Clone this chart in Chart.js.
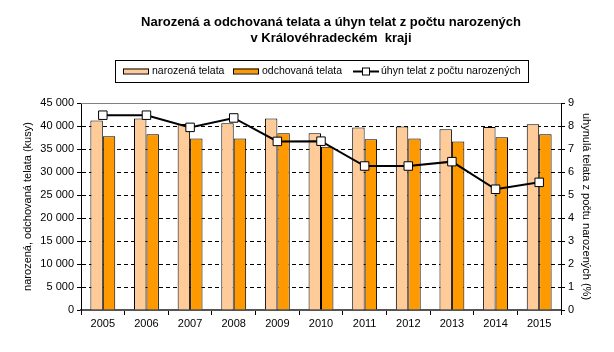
<!DOCTYPE html>
<html>
<head>
<meta charset="utf-8">
<script src="https://cdn.jsdelivr.net/npm/chart.js@4/dist/chart.umd.min.js"></script>
<style>
  html, body { margin: 0; padding: 0; background: #fff; }
</style>
</head>
<body>
<canvas id="chart" width="614" height="352"></canvas>
<script>
const years = ['2005', '2006', '2007', '2008', '2009', '2010', '2011', '2012', '2013', '2014', '2015'];
const narozena = [41200, 41650, 40450, 40600, 41650, 38400, 39700, 39900, 39300, 39800, 40400];
const odchovana = [37750, 38200, 37300, 37300, 38400, 35500, 37100, 37300, 36650, 37550, 38200];
const uhyn = [8.47, 8.47, 7.94, 8.35, 7.33, 7.34, 6.26, 6.26, 6.45, 5.25, 5.55];

const titleLines = ['Narozená a odchovaná telata a úhyn telat z počtu narozených', 'v Královéhradeckém  kraji'];
const seriesNames = ['narozená telata', 'odchovaná telata', 'úhyn telat z počtu narozených'];
const leftTitle = 'narozená, odchovaná telata (kusy)';
const rightTitle = 'uhynulá telata z počtu narozených (%)';

const FONT = '"Liberation Sans", Arial, sans-serif';
const colNar = '#FFCC99';
const colOdch = '#FF9900';

function formatThousands(v) {
    return String(v).replace(/\B(?=(\d{3})+(?!\d))/g, ' ');
}

// title, legend box and top border of the plot
const decorPlugin = {
    id: 'decor',
    beforeDatasetsDraw(chart) {
        const ctx = chart.ctx;
        const area = chart.chartArea;
        ctx.save();
        ctx.strokeStyle = '#808080';
        ctx.lineWidth = 1;
        ctx.beginPath();
        ctx.moveTo(area.left, area.top + 0.5);
        ctx.lineTo(area.right, area.top + 0.5);
        ctx.stroke();
        ctx.restore();
    },
    afterDraw(chart) {
        const ctx = chart.ctx;
        ctx.save();
        ctx.fillStyle = '#000';
        ctx.font = 'bold 13px ' + FONT;
        ctx.textAlign = 'center';
        ctx.textBaseline = 'middle';
        ctx.fillText(titleLines[0], 331, 22);
        ctx.fillText(titleLines[1], 331, 38);

        // legend
        ctx.strokeStyle = '#000';
        ctx.lineWidth = 1;
        ctx.strokeRect(115.5, 60.5, 413, 22);
        ctx.font = '10.5px ' + FONT;
        ctx.textAlign = 'left';
        const y = 71.5;
        const slots = [123, 233, 353];
        [colNar, colOdch].forEach((c, i) => {
            const x = slots[i];
            ctx.fillStyle = c;
            ctx.fillRect(x, y - 3, 26, 5);
            ctx.strokeRect(x + 0.5, y - 2.5, 25, 5);
            ctx.fillStyle = '#000';
            ctx.fillText(seriesNames[i], x + 29, y);
        });
        const x = slots[2];
        ctx.lineWidth = 2;
        ctx.beginPath();
        ctx.moveTo(x, y);
        ctx.lineTo(x + 26, y);
        ctx.stroke();
        ctx.fillStyle = '#fff';
        ctx.lineWidth = 1;
        ctx.fillRect(x + 9, y - 4, 8, 8);
        ctx.strokeRect(x + 9.5, y - 3.5, 7, 7);
        ctx.fillStyle = '#000';
        ctx.fillText(seriesNames[2], x + 28, y);
        ctx.restore();
    }
};

const ctx = document.getElementById('chart').getContext('2d');
new Chart(ctx, {
    data: {
        labels: years,
        datasets: [
            {
                type: 'line',
                label: seriesNames[2],
                data: uhyn,
                yAxisID: 'y1',
                order: 0,
                borderColor: '#000',
                borderWidth: 2,
                pointStyle: 'rect',
                pointRadius: 6,
                pointBackgroundColor: '#fff',
                pointBorderColor: '#000',
                pointBorderWidth: 1,
                tension: 0
            },
            {
                type: 'bar',
                label: seriesNames[0],
                data: narozena,
                yAxisID: 'y',
                order: 1,
                backgroundColor: colNar,
                borderColor: '#000',
                borderWidth: 1,
                barPercentage: 1,
                categoryPercentage: 0.57
            },
            {
                type: 'bar',
                label: seriesNames[1],
                data: odchovana,
                yAxisID: 'y',
                order: 1,
                backgroundColor: colOdch,
                borderColor: '#000',
                borderWidth: 1,
                barPercentage: 1,
                categoryPercentage: 0.57
            }
        ]
    },
    options: {
        responsive: false,
        animation: false,
        layout: { padding: { top: 103, left: 0, right: 0, bottom: 0 } },
        plugins: {
            legend: { display: false },
            title: { display: false },
            tooltip: { enabled: false }
        },
        scales: {
            x: {
                offset: true,
                grid: { offset: true, drawOnChartArea: false, tickLength: 5, color: '#000' },
                border: { color: '#555', width: 2 },
                ticks: { color: '#000', font: { family: FONT, size: 11 }, padding: 2, maxRotation: 0 },
                afterFit(scale) { scale.height = 42; }
            },
            y: {
                position: 'left',
                min: 0,
                max: 45000,
                ticks: {
                    stepSize: 5000,
                    color: '#000',
                    font: { family: FONT, size: 11 },
                    padding: 3,
                    callback: v => formatThousands(v)
                },
                grid: {
                    color: c => (c.tick && (c.tick.value === 0 || c.tick.value === 45000)) ? 'rgba(0,0,0,0)' : '#000',
                    tickColor: '#000',
                    tickLength: 4,
                    lineWidth: 1
                },
                border: { color: '#000', width: 1, dash: [4, 3] },
                title: {
                    display: true,
                    text: leftTitle,
                    color: '#000',
                    font: { family: FONT, size: 11 },
                    padding: { top: 21, bottom: 0 }
                },
                afterFit(scale) { scale.width = 81; }
            },
            y1: {
                position: 'right',
                min: 0,
                max: 9,
                ticks: {
                    stepSize: 1,
                    color: '#000',
                    font: { family: FONT, size: 11 },
                    padding: 3
                },
                grid: { drawOnChartArea: false, tickColor: '#000', tickLength: 4 },
                border: { color: '#000', width: 1 },
                title: {
                    display: true,
                    text: rightTitle,
                    color: '#000',
                    font: { family: FONT, size: 11 },
                    padding: { top: 21, bottom: 0 }
                },
                afterFit(scale) { scale.width = 53; }
            }
        }
    },
    plugins: [decorPlugin]
});
</script>
</body>
</html>
